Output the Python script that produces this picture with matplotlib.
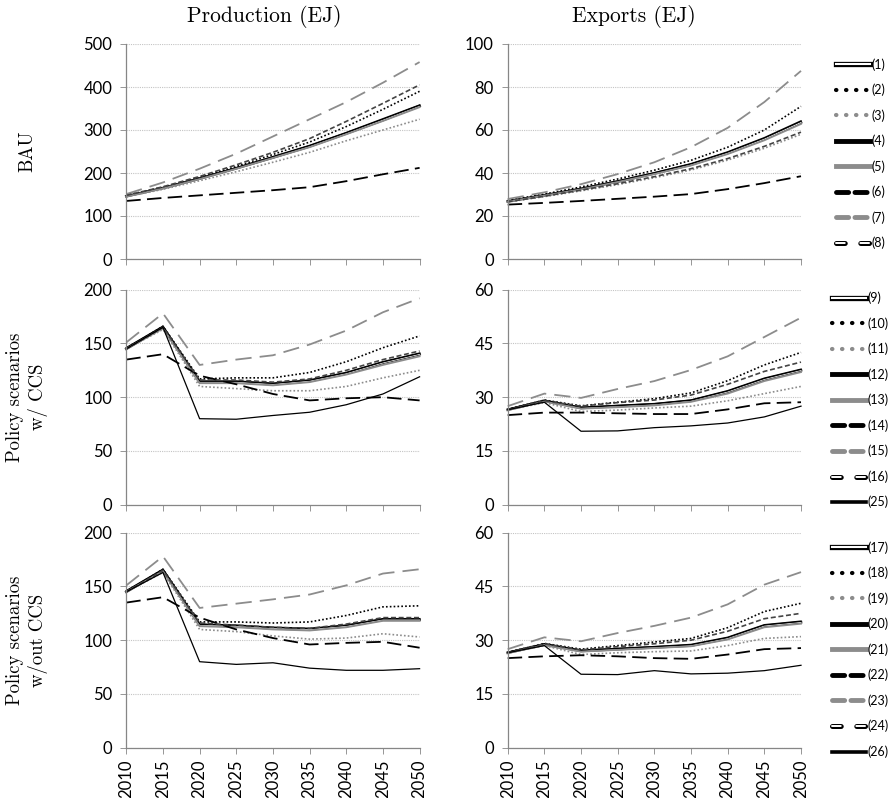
import matplotlib
matplotlib.use("Agg")
import matplotlib.pyplot as plt
import matplotlib.patheffects as pe
from matplotlib.lines import Line2D

years = [2010, 2015, 2020, 2025, 2030, 2035, 2040, 2045, 2050]

# BAU
labels_bau = ["(1)", "(2)", "(3)", "(4)", "(5)", "(6)", "(7)", "(8)"]
prod_bau = [
    [146, 165, 187, 211, 236, 262, 292, 323, 356],
    [148, 167, 190, 215, 243, 272, 308, 348, 390],
    [145, 162, 182, 203, 225, 248, 275, 300, 325],
    [146, 165, 188, 212, 238, 264, 294, 326, 358],
    [145, 164, 186, 210, 235, 260, 290, 321, 353],
    [135, 142, 148, 154, 160, 167, 181, 197, 212],
    [151, 178, 210, 245, 285, 325, 365, 410, 458],
    [148, 168, 192, 219, 248, 280, 320, 362, 405],
]
exp_bau = [
    [26.8, 29.6, 32.6, 36.0, 39.8, 43.9, 49.3, 55.8, 63.5],
    [27.2, 30.2, 33.5, 37.2, 41.3, 45.9, 52.0, 60.0, 71.0],
    [26.5, 29.0, 31.7, 34.6, 37.8, 41.4, 46.0, 51.5, 58.0],
    [26.9, 29.8, 32.8, 36.3, 40.1, 44.3, 49.8, 56.4, 64.2],
    [26.7, 29.5, 32.4, 35.8, 39.5, 43.5, 48.8, 55.2, 62.8],
    [25.3, 26.1, 27.0, 28.0, 29.0, 30.2, 32.5, 35.3, 38.5],
    [27.9, 31.0, 34.8, 39.5, 45.0, 52.0, 61.0, 73.0, 87.5],
    [26.6, 29.2, 32.0, 35.0, 38.3, 42.0, 46.7, 52.4, 59.0],
]

# policy scenarios with CCS
labels_ccs = ["(9)", "(10)", "(11)", "(12)", "(13)", "(14)", "(15)", "(16)", "(25)"]
prod_ccs = [
    [145, 165, 114, 114, 112, 115, 122, 132, 140],
    [145, 166, 117, 118, 118, 123, 133, 146, 157],
    [145, 163, 110, 108, 106, 106, 110, 118, 125],
    [146, 166, 115, 115, 113, 116, 123, 133, 141],
    [145, 164, 113, 113, 111, 114, 121, 130, 138],
    [135, 140, 120, 112, 103, 97, 99, 100, 97],
    [151, 178, 130, 135, 139, 149, 162, 179, 192],
    [145, 165, 116, 116, 114, 117, 125, 135, 143],
    [145, 165, 80, 79.5, 83, 86, 93, 103, 119],
]
exp_ccs = [
    [26.5, 29.0, 27.0, 27.5, 28.0, 29.0, 31.5, 35.0, 37.5],
    [26.6, 29.2, 27.6, 28.6, 29.6, 31.2, 34.6, 39.0, 42.5],
    [26.4, 28.5, 26.0, 26.4, 27.0, 27.5, 29.0, 31.0, 33.0],
    [26.6, 29.1, 27.2, 27.7, 28.2, 29.2, 31.8, 35.3, 37.8],
    [26.4, 28.8, 26.8, 27.2, 27.7, 28.7, 31.0, 34.5, 37.0],
    [25.0, 25.7, 25.7, 25.5, 25.3, 25.3, 26.6, 28.3, 28.6],
    [27.5, 31.0, 29.8, 32.3, 34.5, 37.6, 41.4, 46.8, 52.2],
    [26.5, 29.0, 27.5, 28.5, 29.2, 30.6, 33.6, 37.2, 39.8],
    [26.5, 28.6, 20.5, 20.6, 21.5, 22.0, 22.8, 24.5, 27.5],
]

# policy scenarios without CCS
labels_noccs = ["(17)", "(18)", "(19)", "(20)", "(21)", "(22)", "(23)", "(24)", "(26)"]
prod_noccs = [
    [145, 165, 114, 113, 111, 110, 113, 119, 119],
    [145, 166, 117, 117, 116, 117, 123, 131, 132],
    [145, 163, 110, 108, 104, 101, 102, 106, 103],
    [146, 166, 115, 114, 112, 111, 114, 120, 120],
    [145, 164, 113, 112, 110, 109, 112, 118, 118],
    [135, 140, 121, 110, 102, 96, 97.5, 98.5, 93],
    [151, 178, 130, 134, 138, 142.5, 151, 162, 166],
    [145, 165, 116, 114, 112, 111, 115, 121, 121],
    [145, 163, 80, 77.5, 79, 74, 72, 72, 73.5],
]
exp_noccs = [
    [26.5, 28.8, 27.0, 27.5, 28.0, 28.5, 30.5, 34.0, 35.0],
    [26.6, 29.1, 27.5, 28.5, 29.5, 30.5, 33.5, 38.0, 40.3],
    [26.4, 28.5, 26.0, 26.5, 26.8, 27.0, 28.5, 30.5, 31.0],
    [26.6, 29.0, 27.2, 27.7, 28.2, 28.8, 30.8, 34.3, 35.3],
    [26.4, 28.6, 26.8, 27.3, 27.8, 28.3, 30.2, 33.6, 34.6],
    [25.0, 25.5, 25.8, 25.5, 25.0, 24.8, 26.0, 27.5, 27.8],
    [27.5, 30.8, 29.7, 32.0, 34.0, 36.3, 40.0, 45.5, 49.0],
    [26.5, 29.0, 27.3, 28.2, 29.0, 30.0, 32.5, 36.0, 37.5],
    [26.5, 28.5, 20.5, 20.4, 21.5, 20.6, 20.8, 21.5, 23.0],
]

row_titles = ["BAU", "Policy scenarios\nw/ CCS", "Policy scenarios\nw/out CCS"]
col_titles = ["Production (EJ)", "Exports (EJ)"]

GRAY = "#8c8c8c"
AXC = "#868686"

# line styles used inside the plots (by position in each list)
plot_styles = [
    dict(color="white", lw=0.6, path_effects=[pe.Stroke(linewidth=1.9, foreground="#333333"), pe.Normal()]),
    dict(color="black", lw=1.2, ls=(0, (1, 1.3))),
    dict(color=GRAY, lw=1.2, ls=(0, (1, 1.3))),
    dict(color="black", lw=1.1),
    dict(color=GRAY, lw=1.3),
    dict(color="black", lw=1.3, ls=(0, (8, 3.5))),
    dict(color=GRAY, lw=1.3, ls=(0, (9, 4.5))),
    dict(color="#444444", lw=1.2, ls=(0, (3, 1.6))),
    dict(color="black", lw=0.9),
]

# line styles used in the legends
leg_styles = [
    dict(color="white", lw=1.5, path_effects=[pe.Stroke(linewidth=3.8, foreground="black"), pe.Normal()]),
    dict(color="black", lw=3, ls=(0, (0.1, 2.3)), dash_capstyle="round"),
    dict(color=GRAY, lw=3, ls=(0, (0.1, 2.3)), dash_capstyle="round"),
    dict(color="black", lw=3.5),
    dict(color=GRAY, lw=3.5),
    dict(color="black", lw=3.5, ls=(0, (2.5, 1.3)), dash_capstyle="round"),
    dict(color=GRAY, lw=3.5, ls=(0, (2.5, 1.3)), dash_capstyle="round"),
    dict(color="white", lw=1.4, ls=(0, (4.5, 8)), dash_capstyle="round",
         path_effects=[pe.Stroke(linewidth=3.6, foreground="black"), pe.Normal()]),
    dict(color="black", lw=2.6),
]

rows = [
    (prod_bau, exp_bau, labels_bau, (500, 100), (100, 20)),
    (prod_ccs, exp_ccs, labels_ccs, (200, 50), (60, 15)),
    (prod_noccs, exp_noccs, labels_noccs, (200, 50), (60, 15)),
]

W, H = 893, 798
fig = plt.figure(figsize=(W / 100, H / 100), dpi=100)
plt.rcParams["font.family"] = ["Lato", "DejaVu Sans"]

ax_bottoms = [259, 504.7, 747.7]
ax_h = 215
ax_lefts = [126.3, 507.7]
ax_w = 293.3
title_x = [264, 634]
leg_tops = [58, 291.5, 541]
leg_lefts = [836, 832, 832]

for r, (prod, exp, labs, yp, ye) in enumerate(rows):
    for c, (data, (ymax, ystep)) in enumerate([(prod, yp), (exp, ye)]):
        ax = fig.add_axes([ax_lefts[c] / W, 1 - ax_bottoms[r] / H, ax_w / W, ax_h / H])
        for i, vals in enumerate(data):
            ax.plot(years, vals, clip_on=False, **plot_styles[i])
        ax.set_xlim(2010, 2050)
        ax.set_ylim(0, ymax)
        ax.set_yticks(range(0, ymax + 1, ystep))
        ax.set_xticks(years)
        ax.yaxis.grid(True, ls=(0, (1, 1)), color="#c4c4c4", lw=0.8)
        ax.set_axisbelow(True)
        for s in ["top", "right"]:
            ax.spines[s].set_visible(False)
        for s in ["left", "bottom"]:
            ax.spines[s].set_color(AXC)
            ax.spines[s].set_linewidth(0.9)
        ax.tick_params(axis="y", colors=AXC, length=4.5, width=0.6, labelsize=12,
                       labelcolor="black", pad=5.5)
        ax.tick_params(axis="x", colors=AXC, length=4.5, width=0.6, labelsize=12,
                       labelcolor="black", labelrotation=90, pad=4)
        if r < 2:
            ax.set_xticklabels([])
        if r == 0:
            fig.text(title_x[c] / W, 1 - 22 / H, col_titles[c],
                     family="cmr10", fontsize=15.5, ha="center", va="baseline")

    handles = [Line2D([0], [0], **leg_styles[i if i < 8 else 8]) for i in range(len(labs))]
    fig.legend(handles, labs, loc="upper left", frameon=False,
               bbox_to_anchor=(leg_lefts[r] / W, 1 - leg_tops[r] / H),
               bbox_transform=fig.transFigure, fontsize=9, handlelength=2.7,
               handletextpad=0.1, labelspacing=1.04, borderpad=0, borderaxespad=0)

    fig.text(27 / W, 1 - (ax_bottoms[r] - ax_h / 2) / H, row_titles[r], family="cmr10",
             fontsize=13.5, rotation=90, ha="center", va="center", multialignment="center")

fig.savefig("out.png", dpi=100)
